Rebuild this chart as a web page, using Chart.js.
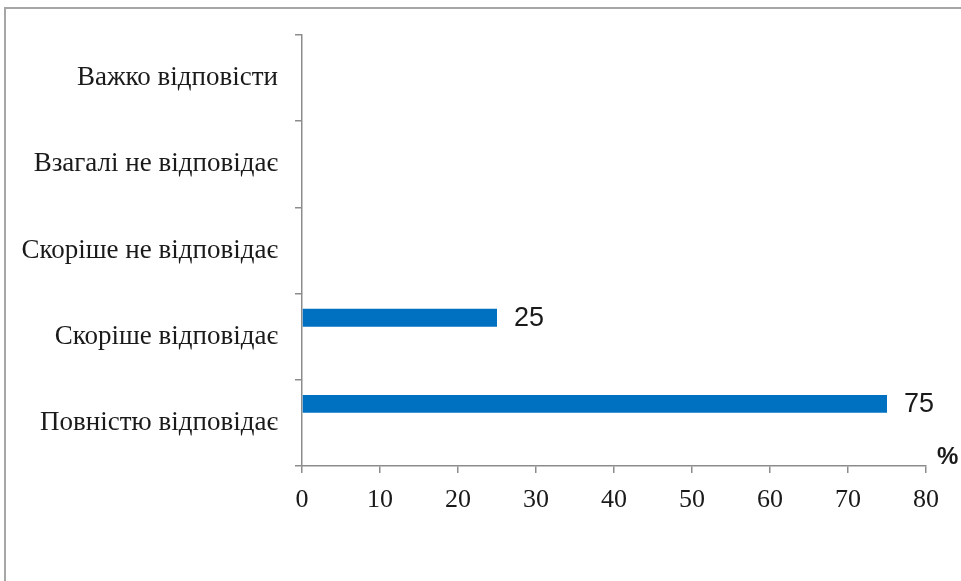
<!DOCTYPE html>
<html>
<head>
<meta charset="utf-8">
<script src="https://cdn.jsdelivr.net/npm/chart.js@4.4.1/dist/chart.umd.min.js"></script>
<style>
  body { margin: 0; background: #fff; }
  #wrap { position: relative; width: 961px; height: 581px; }
  #frame { position: absolute; left: 4px; top: 7px; width: 970px; height: 590px;
           border-top: 2px solid #a6a6a6; border-left: 2px solid #a6a6a6; }
  canvas { position: absolute; left: 0; top: 0; }
</style>
</head>
<body>
<div id="wrap">
  <div id="frame"></div>
  <canvas id="chart" width="961" height="581"></canvas>
</div>
<script>
// categories, top to bottom
const categories = [
  "Важко відповісти",
  "Взагалі не відповідає",
  "Скоріше не відповідає",
  "Скоріше відповідає",
  "Повністю відповідає"
];
const values = [null, null, null, 25, 75];
const secondSeries = [null, null, null, null, null]; // empty second series in the original
const xTicks = [0, 10, 20, 30, 40, 50, 60, 70, 80];

const axisColor = "#8c8c8c";
const textColor = "#1a1a1a";

// draws the value labels and the "%" sign
const labelsPlugin = {
  id: "labels",
  afterDatasetsDraw(chart) {
    const ctx = chart.ctx;
    const meta = chart.getDatasetMeta(0);
    ctx.save();
    ctx.fillStyle = textColor;
    ctx.font = "27px 'Liberation Sans', Arial, sans-serif";
    ctx.textBaseline = "middle";
    ctx.textAlign = "left";
    meta.data.forEach((bar, i) => {
      if (values[i] == null) return;
      ctx.fillText(values[i], bar.x + 17, bar.y + 1);
    });
    const xs = chart.scales.x;
    ctx.font = "bold 24px 'Liberation Sans', Arial, sans-serif";
    ctx.textBaseline = "alphabetic";
    ctx.fillText("%", xs.right + 11, xs.top - 2);
    ctx.restore();
  }
};

new Chart(document.getElementById("chart"), {
  type: "bar",
  data: {
    labels: categories,
    datasets: [
      { data: values, backgroundColor: "#0070c0", categoryPercentage: 0.88, barPercentage: 0.47 },
      { data: secondSeries, backgroundColor: "#c0504d", categoryPercentage: 0.88, barPercentage: 0.47 }
    ]
  },
  options: {
    indexAxis: "y",
    responsive: false,
    animation: false,
    layout: { padding: { top: 35, right: 35, left: 0, bottom: 0 } },
    plugins: { legend: { display: false }, tooltip: { enabled: false } },
    scales: {
      x: {
        min: 0,
        max: 80,
        afterBuildTicks: (scale) => { scale.ticks = xTicks.map(v => ({ value: v })); },
        afterFit: (scale) => { scale.height = 115; },
        border: { color: axisColor, width: 1.5 },
        grid: { drawOnChartArea: false, color: axisColor, tickLength: 7, lineWidth: 1.5 },
        ticks: {
          color: textColor,
          padding: 12,
          maxRotation: 0,
          font: { family: "'Liberation Serif', 'Times New Roman', serif", size: 26 }
        }
      },
      y: {
        afterFit: (scale) => { scale.width = 302; },
        border: { color: axisColor, width: 1.5 },
        grid: { drawOnChartArea: false, color: axisColor, tickLength: 7, lineWidth: 1.5 },
        ticks: {
          color: textColor,
          padding: 17,
          font: { family: "'Liberation Serif', 'Times New Roman', serif", size: 27 }
        }
      }
    }
  },
  plugins: [labelsPlugin]
});
</script>
</body>
</html>
